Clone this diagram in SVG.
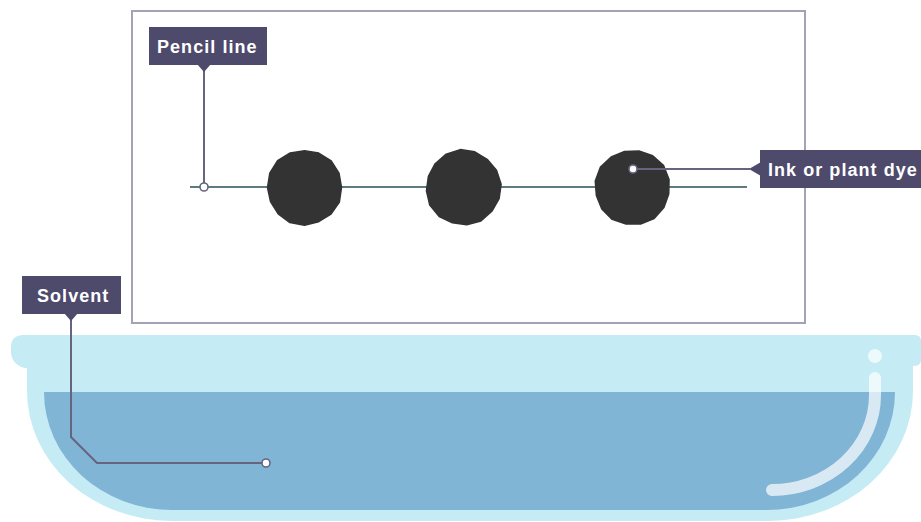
<svg xmlns="http://www.w3.org/2000/svg" width="921" height="522" viewBox="0 0 921 522">
  <style>
    .tag { fill: #4e4a6c; }
    .tag-text { fill: #ffffff; font-family: "Liberation Sans", Arial, sans-serif; font-weight: bold; font-size: 18px; letter-spacing: 1.05px; }
    .lead { fill: none; stroke: #67647f; stroke-width: 2; }
    .end { fill: #ffffff; stroke: #67647f; stroke-width: 1.6; }
    .ink { fill: #333333; }
    .shine { fill: none; stroke: #ffffff; stroke-opacity: 0.7; stroke-width: 12; stroke-linecap: round; }
  </style>
  <defs>
    <polygon id="blob" points="37,0 34.9,14.5 26.5,26.5 14.2,34.2 0,37.8 -14.6,35.1 -26.3,26.3 -34,14.1 -37,0 -34.7,-14.4 -26.9,-26.9 -14.3,-34.6 0,-36.8 14.2,-34.4 26.7,-26.7 34.5,-14.3" stroke="#333333" stroke-width="1.5" stroke-linejoin="round"/>
  </defs>
  <rect width="921" height="522" fill="#ffffff"/>

  <!-- dish of solvent -->
  <g id="dish">
    <path d="M24,335 H915 Q921,335 921,341 V360 Q921,366 913,366 V391 A145 130 0 0 1 768,521 H172 A145 130 0 0 1 27,391 V368 A16 16 0 0 1 11,352 V347 Q11,335 24,335 Z" fill="#c5ebf5"/>
    <path d="M44,392 H895 A128 118 0 0 1 767,510 H172 A128 118 0 0 1 44,392 Z" fill="#80b5d6"/>
    <path class="shine" d="M875,378 V395 A103 95 0 0 1 772,490"/>
    <circle cx="875" cy="356" r="7" fill="#ffffff" fill-opacity="0.7"/>
  </g>

  <!-- chromatography paper -->
  <g id="paper">
    <rect x="132" y="11" width="673" height="312" fill="#ffffff" stroke="#a5a2b5" stroke-width="2"/>
    <line x1="190" y1="187" x2="747" y2="187" stroke="#5c7c7d" stroke-width="2.2"/>
  </g>

  <g id="spot-1"><use href="#blob" class="ink" transform="translate(304.5,187.5)"/></g>
  <g id="spot-2"><use href="#blob" class="ink" transform="translate(463.5,187.5) rotate(40)"/></g>
  <g id="spot-3"><use href="#blob" class="ink" transform="translate(632.5,187.5) rotate(100)"/></g>

  <!-- label leader lines -->
  <g id="connectors">
    <path class="lead" d="M204,71 V183"/>
    <path class="lead" d="M637,169 H750"/>
    <path class="lead" d="M71,320 V437 L97,463 H262"/>
    <circle class="end" cx="204" cy="187" r="4"/>
    <circle class="end" cx="633" cy="169" r="4"/>
    <circle class="end" cx="266" cy="463" r="4"/>
  </g>

  <g id="label-pencil">
    <rect class="tag" x="149" y="27" width="118" height="38"/>
    <polygon class="tag" points="197,64 211,64 204,72"/>
    <text class="tag-text" x="157" y="53">Pencil line</text>
  </g>

  <g id="label-ink">
    <rect class="tag" x="760" y="150" width="170" height="38"/>
    <polygon class="tag" points="761,162 761,176 749,169"/>
    <text class="tag-text" x="768" y="176">Ink or plant dye</text>
  </g>

  <g id="label-solvent">
    <rect class="tag" x="22" y="276" width="99" height="38"/>
    <polygon class="tag" points="64,313 78,313 71,321"/>
    <text class="tag-text" x="37" y="301.5">Solvent</text>
  </g>
</svg>
